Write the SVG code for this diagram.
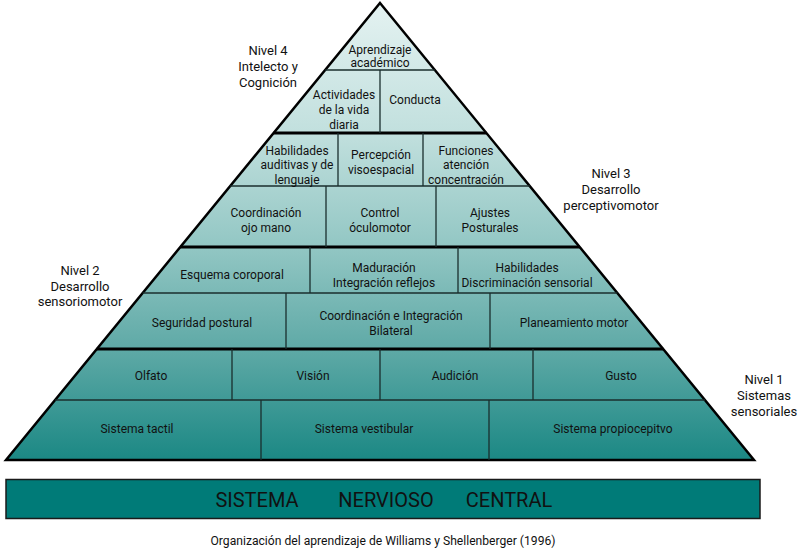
<svg xmlns="http://www.w3.org/2000/svg" width="800" height="554" viewBox="0 0 800 554">
<defs>
<linearGradient id="g" gradientUnits="userSpaceOnUse" x1="0" y1="3" x2="0" y2="460">
<stop offset="0" stop-color="#e4f2f1"/>
<stop offset="0.28" stop-color="#c2e0de"/>
<stop offset="0.53" stop-color="#93c7c4"/>
<stop offset="0.76" stop-color="#5ea9a6"/>
<stop offset="1" stop-color="#1b8884"/>
</linearGradient>
<style>
text{font-family:Roboto,"Liberation Sans",sans-serif;fill:#111;text-anchor:middle}
.c{font-size:12px}
.s{font-size:13px}
.thin{stroke:#1a2e2d;stroke-width:1.3;fill:none}
.thick{stroke:#000;stroke-width:3;fill:none}
.div{stroke:#1a2e2d;stroke-width:1.3}
</style>
</defs>
<rect width="800" height="554" fill="#fff"/>
<g id="pyramid">
<polygon points="380,3 754,460 6,460" fill="url(#g)" stroke="#000" stroke-width="2.5" stroke-linejoin="miter"/>
</g>
<g id="connectors">
<line class="thin" x1="325.2" y1="70" x2="434.8" y2="70"/>
<line class="thick" x1="273.6" y1="133" x2="486.4" y2="133"/>
<line class="thin" x1="230.2" y1="186" x2="529.8" y2="186"/>
<line class="thick" x1="180.3" y1="247" x2="579.7" y2="247"/>
<line class="thin" x1="142.7" y1="293" x2="617.3" y2="293"/>
<line class="thick" x1="96.8" y1="349" x2="663.2" y2="349"/>
<line class="thin" x1="55.1" y1="400" x2="704.9" y2="400"/>
<line class="div" x1="380" y1="70" x2="380" y2="133"/>
<line class="div" x1="338" y1="133" x2="338" y2="186"/>
<line class="div" x1="423" y1="133" x2="423" y2="186"/>
<line class="div" x1="326" y1="186" x2="326" y2="247"/>
<line class="div" x1="436" y1="186" x2="436" y2="247"/>
<line class="div" x1="310" y1="247" x2="310" y2="293"/>
<line class="div" x1="458" y1="247" x2="458" y2="293"/>
<line class="div" x1="286" y1="293" x2="286" y2="349"/>
<line class="div" x1="490" y1="293" x2="490" y2="349"/>
<line class="div" x1="232" y1="349" x2="232" y2="400"/>
<line class="div" x1="380" y1="349" x2="380" y2="400"/>
<line class="div" x1="533" y1="349" x2="533" y2="400"/>
<line class="div" x1="261" y1="400" x2="261" y2="460"/>
<line class="div" x1="489" y1="400" x2="489" y2="460"/>
</g>
<g id="n-aprendizaje"><text class="c" x="380" y="54">Aprendizaje</text><text class="c" x="380" y="67">académico</text></g>
<g id="n-actividades"><text class="c" x="344" y="99">Actividades</text><text class="c" x="344" y="114">de la vida</text><text class="c" x="344" y="129">diaria</text></g>
<g id="n-conducta"><text class="c" x="415" y="104">Conducta</text></g>
<g id="n-habilidades-aud"><text class="c" x="297" y="155">Habilidades</text><text class="c" x="297" y="169">auditivas y de</text><text class="c" x="297" y="184">lenguaje</text></g>
<g id="n-percepcion"><text class="c" x="381" y="159">Percepción</text><text class="c" x="381" y="174">visoespacial</text></g>
<g id="n-funciones"><text class="c" x="466" y="155">Funciones</text><text class="c" x="466" y="169">atención</text><text class="c" x="466" y="184">concentración</text></g>
<g id="n-coordinacion-ojo"><text class="c" x="266" y="217">Coordinación</text><text class="c" x="266" y="232">ojo mano</text></g>
<g id="n-control"><text class="c" x="380" y="217">Control</text><text class="c" x="380" y="232">óculomotor</text></g>
<g id="n-ajustes"><text class="c" x="490" y="217">Ajustes</text><text class="c" x="490" y="232">Posturales</text></g>
<g id="n-esquema"><text class="c" x="232" y="279">Esquema coroporal</text></g>
<g id="n-maduracion"><text class="c" x="384" y="272">Maduración</text><text class="c" x="384" y="287">Integración reflejos</text></g>
<g id="n-habilidades-disc"><text class="c" x="527" y="272">Habilidades</text><text class="c" x="527" y="287">Discriminación sensorial</text></g>
<g id="n-seguridad"><text class="c" x="202" y="327">Seguridad postural</text></g>
<g id="n-coordinacion-bil"><text class="c" x="391" y="320">Coordinación e Integración</text><text class="c" x="391" y="335">Bilateral</text></g>
<g id="n-planeamiento"><text class="c" x="574" y="327">Planeamiento motor</text></g>
<g id="n-olfato"><text class="c" x="151" y="380">Olfato</text></g>
<g id="n-vision"><text class="c" x="313" y="380">Visión</text></g>
<g id="n-audicion"><text class="c" x="455" y="380">Audición</text></g>
<g id="n-gusto"><text class="c" x="621" y="380">Gusto</text></g>
<g id="n-tactil"><text class="c" x="137" y="433">Sistema tactil</text></g>
<g id="n-vestibular"><text class="c" x="364" y="433">Sistema vestibular</text></g>
<g id="n-propioceptivo"><text class="c" x="613" y="433">Sistema propiocepitvo</text></g>
<g id="l-nivel4"><text class="s" x="268" y="55">Nivel 4</text><text class="s" x="268" y="71">Intelecto y</text><text class="s" x="268" y="87">Cognición</text></g>
<g id="l-nivel3"><text class="s" x="611" y="178">Nivel 3</text><text class="s" x="611" y="194">Desarrollo</text><text class="s" x="611" y="210">perceptivomotor</text></g>
<g id="l-nivel2"><text class="s" x="80" y="275">Nivel 2</text><text class="s" x="80" y="291">Desarrollo</text><text class="s" x="80" y="306">sensoriomotor</text></g>
<g id="l-nivel1"><text class="s" x="764" y="384">Nivel 1</text><text class="s" x="764" y="400">Sistemas</text><text class="s" x="764" y="416">sensoriales</text></g>
<g id="n-snc">
<rect x="6" y="479.5" width="754" height="39" fill="#007b78" stroke="#1a1a1a" stroke-width="1.5"/>
<text x="257" y="507" style="font-size:20px">SISTEMA</text>
<text x="386" y="507" style="font-size:20px">NERVIOSO</text>
<text x="509" y="507" style="font-size:20px">CENTRAL</text>
</g>
<g id="caption"><text x="383" y="545" style="font-size:12px" textLength="345" lengthAdjust="spacingAndGlyphs">Organización del aprendizaje de Williams y Shellenberger (1996)</text></g>
</svg>
